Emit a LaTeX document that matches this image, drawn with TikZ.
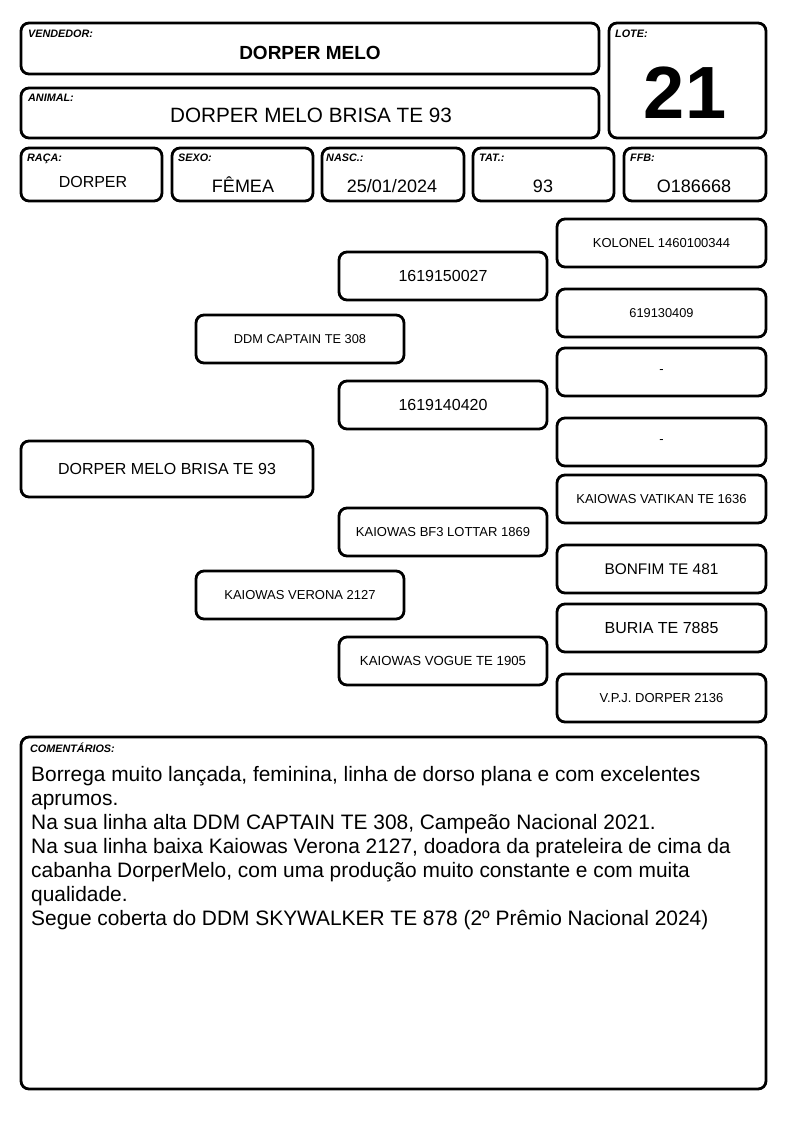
\documentclass[tikz,border=0pt]{standalone}
\usepackage{fontspec}
\setmainfont{Liberation Sans}
\newcommand{\fsz}[1]{\fontsize{#1}{#1}\selectfont}
\begin{document}
\begin{tikzpicture}[x=1pt,y=-1pt,
  box/.style={draw, line width=2.8pt, rounded corners=8pt, inner sep=0pt},
  lbl/.style={anchor=north west, inner sep=0pt, font=\fsz{10.8}\bfseries\itshape},
  val/.style={inner sep=0pt, anchor=base}]
\useasboundingbox (0,0) rectangle (794,1123);
% header boxes
\draw[box] (21,23) rectangle (599,74);
\node[lbl] (lvend) at (28,30) {VENDEDOR:};
\node[val, font=\fsz{19}\bfseries] (vend) at (310,60) {DORPER MELO};

\draw[box] (21,88) rectangle (599,138);
\node[lbl] (lanim) at (28,94) {ANIMAL:};
\node[val, font=\fsz{20.7}] (anim) at (311,123) {DORPER MELO BRISA TE 93};

\draw[box] (609,23) rectangle (766,138);
\node[lbl] (llote) at (615,30) {LOTE:};
\node[val, font=\fsz{74}\bfseries] (lote) at (685,119) {21};

\draw[box] (21,148) rectangle (162,201);
\node[lbl] (lraca) at (27,154) {RAÇA:};
\node[val, font=\fsz{16}] (raca) at (93,188) {DORPER};

\draw[box] (172,148) rectangle (313,201);
\node[lbl] (lsexo) at (178,154) {SEXO:};
\node[val, font=\fsz{18}] (sexo) at (243,193) {FÊMEA};

\draw[box] (322,148) rectangle (464,201);
\node[lbl] (lnasc) at (326,154) {NASC.:};
\node[val, font=\fsz{18}] (nasc) at (392,193) {25/01/2024};

\draw[box] (473,148) rectangle (614,201);
\node[lbl] (ltat) at (479,154) {TAT.:};
\node[val, font=\fsz{18}] (tat) at (543,193) {93};

\draw[box] (624,148) rectangle (766,201);
\node[lbl] (lffb) at (630,154) {FFB:};
\node[val, font=\fsz{18}] (ffb) at (694,193) {O186668};

% pedigree
\node[box, minimum width=292pt, minimum height=56pt, font=\fsz{16}] (p0) at (167,469) {DORPER MELO BRISA TE 93};
\node[box, minimum width=208pt, minimum height=48pt, font=\fsz{12.8}] (p1) at (300,339) {DDM CAPTAIN TE 308};
\node[box, minimum width=208pt, minimum height=48pt, font=\fsz{13}] (p2) at (300,595) {KAIOWAS VERONA 2127};
\node[box, minimum width=208pt, minimum height=48pt, font=\fsz{16}] (p3) at (443,276) {1619150027};
\node[box, minimum width=208pt, minimum height=48pt, font=\fsz{16}] (p4) at (443,405) {1619140420};
\node[box, minimum width=208pt, minimum height=48pt, font=\fsz{13}] (p5) at (443,532) {KAIOWAS BF3 LOTTAR 1869};
\node[box, minimum width=208pt, minimum height=48pt, font=\fsz{13.2}] (p6) at (443,661) {KAIOWAS VOGUE TE 1905};
\node[box, minimum width=209pt, minimum height=48pt, font=\fsz{13}] (p7) at (661.5,243) {KOLONEL 1460100344};
\node[box, minimum width=209pt, minimum height=48pt, font=\fsz{12.8}] (p8) at (661.5,313) {619130409};
\node[box, minimum width=209pt, minimum height=48pt, font=\fsz{13}] (p9) at (661.5,372) {-};
\node[box, minimum width=209pt, minimum height=48pt, font=\fsz{13}] (p10) at (661.5,442) {-};
\node[box, minimum width=209pt, minimum height=48pt, font=\fsz{13}] (p11) at (661.5,499) {KAIOWAS VATIKAN TE 1636};
\node[box, minimum width=209pt, minimum height=48pt, font=\fsz{15.4}] (p12) at (661.5,569) {BONFIM TE 481};
\node[box, minimum width=209pt, minimum height=48pt, font=\fsz{16}] (p13) at (661.5,628) {BURIA TE 7885};
\node[box, minimum width=209pt, minimum height=48pt, font=\fsz{13}] (p14) at (661.5,698) {V.P.J. DORPER 2136};

% comments
\draw[box] (21,737) rectangle (766,1089);
\node[lbl] (lcom) at (30,743) {COMENTÁRIOS:};
\node[anchor=north west, inner sep=0pt, align=left, font=\fontsize{20.9}{24}\selectfont] (com) at (31,766) {Borrega muito lançada, feminina, linha de dorso plana e com excelentes\\aprumos.\\Na sua linha alta DDM CAPTAIN TE 308, Campeão Nacional 2021.\\Na sua linha baixa Kaiowas Verona 2127, doadora da prateleira de cima da\\cabanha DorperMelo, com uma produção muito constante e com muita\\qualidade.\\Segue coberta do DDM SKYWALKER TE 878 (2º Prêmio Nacional 2024)};
\end{tikzpicture}
\end{document}
